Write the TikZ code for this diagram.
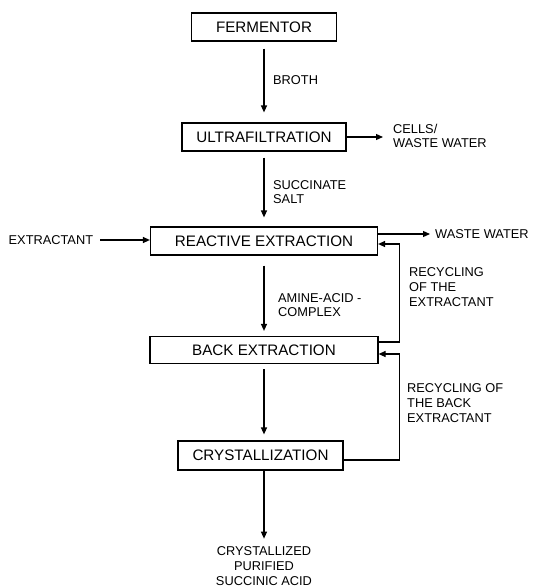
\documentclass[tikz,border=0pt]{standalone}
\usepackage{fontspec}
\setmainfont{Liberation Sans}
\usetikzlibrary{arrows.meta}

\begin{document}
\begin{tikzpicture}[x=1pt,y=-1pt,
  unit/.style={draw,line width=1.2pt,minimum height=28pt,inner sep=0pt,font=\fontsize{15.2}{18}\selectfont},
  lbl/.style={inner sep=0pt,align=left,font=\fontsize{12.8}{14.6}\selectfont},
  flow/.style={line width=1.2pt,-{Triangle[length=7pt,width=6pt]}}]
\useasboundingbox (0,0) rectangle (539,587);
\node[unit,minimum width=145pt] (ferm) at (264,27) {FERMENTOR};
\node[unit,minimum width=164pt] (ultra) at (264,137) {ULTRAFILTRATION};
\node[unit,minimum width=227pt] (react) at (264,241) {REACTIVE EXTRACTION};
\node[unit,minimum width=228pt,minimum height=27pt] (back) at (264,350) {BACK EXTRACTION};
\node[unit,minimum width=165pt,minimum height=29pt] (cryst) at (260.5,455.5) {CRYSTALLIZATION};
%
\node[lbl,anchor=west] (broth) at (273,80) {BROTH};
\node[lbl,anchor=west] (succ) at (273,192) {SUCCINATE\\SALT};
\node[lbl,anchor=west] (cells) at (393,136) {CELLS/\\WASTE WATER};
\node[lbl,anchor=west] (extr) at (8.5,240) {EXTRACTANT};
\node[lbl,anchor=west] (waste) at (435,234) {WASTE WATER};
\node[lbl,anchor=west] (recext) at (409,287) {RECYCLING\\OF THE\\EXTRACTANT};
\node[lbl,anchor=west] (complex) at (278,305) {AMINE-ACID -\\COMPLEX};
\node[lbl,anchor=west] (recback) at (407,403) {RECYCLING OF\\THE BACK\\EXTRACTANT};
\node[lbl,align=center] (product) at (264,566) {CRYSTALLIZED\\PURIFIED\\SUCCINIC ACID};
%
\draw[flow,shorten <=7pt,shorten >=10pt] (ferm) -- (ultra);
\draw[flow,shorten <=6pt,shorten >=9pt] (ultra) -- (react);
\draw[flow,shorten <=10pt,shorten >=5pt] (react) -- (back);
\draw[flow,shorten <=5pt,shorten >=6pt] (back.south) -- (back.south |- cryst.north);
\draw[flow,shorten >=8pt] (product.north |- cryst.south) -- (product.north);
%
\draw[flow,shorten >=10pt] (ultra.east) -- (ultra.east -| cells.west);
\draw[flow,shorten <=7pt] (extr) -- (extr -| react.west);
\draw[flow,shorten >=5pt] ([yshift=7pt]react.east) -- (waste.west);
\draw[flow] ([yshift=8pt]back.east) -- ++(21,0) |- ([yshift=-3pt]react.east);
\draw[flow] ([yshift=-4.5pt]cryst.east) -- ++(56,0) |- ([yshift=-4pt]back.east);

\end{tikzpicture}
\end{document}
